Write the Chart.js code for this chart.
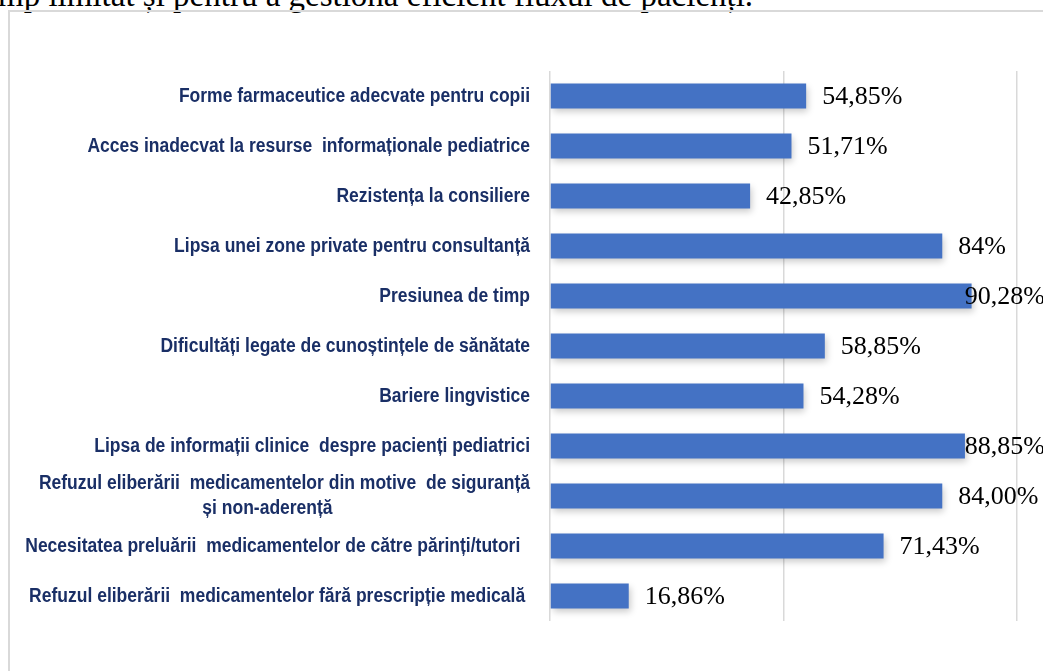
<!DOCTYPE html>
<html>
<head>
<meta charset="utf-8">
<script src="https://cdn.jsdelivr.net/npm/chart.js@4/dist/chart.umd.min.js"></script>
<style>
  html, body { margin: 0; padding: 0; background: #fff; overflow: hidden; }
  #wrap { position: relative; width: 1043px; height: 671px; }
  #intro {
    position: absolute; left: -2px; top: -21px; white-space: nowrap; line-height: 33px;
    font-family: "Liberation Serif", "Times New Roman", serif; font-size: 33px; color: #000;
  }
  #frame {
    position: absolute; left: 8px; top: 10px; width: 1100px; height: 700px;
    border-left: 2px solid #d9d9d9; border-top: 2px solid #d9d9d9;
  }
  canvas { position: absolute; left: 0; top: 0; }
</style>
</head>
<body>
<div id="wrap">
  <div id="intro">mp limitat și pentru a gestiona eficient fluxul de pacienți.</div>
  <div id="frame"></div>
  <canvas id="chart" width="1043" height="671"></canvas>
</div>
<script>
// categories, top to bottom
const categories = [
    ['Forme farmaceutice adecvate pentru copii'],
    ['Acces inadecvat la resurse  informaționale pediatrice'],
    ['Rezistența la consiliere'],
    ['Lipsa unei zone private pentru consultanță'],
    ['Presiunea de timp'],
    ['Dificultăți legate de cunoștințele de sănătate'],
    ['Bariere lingvistice'],
    ['Lipsa de informații clinice  despre pacienți pediatrici'],
    ['Refuzul eliberării  medicamentelor din motive  de siguranță', 'și non-aderență'],
    ['Necesitatea preluării  medicamentelor de către părinți/tutori  '],
    ['Refuzul eliberării  medicamentelor fără prescripție medicală ']
];
const values = [54.85, 51.71, 42.85, 84, 90.28, 58.85, 54.28, 88.85, 84.00, 71.43, 16.86];
const valueLabels = ['54,85%', '51,71%', '42,85%', '84%', '90,28%', '58,85%', '54,28%', '88,85%', '84,00%', '71,43%', '16,86%'];
const xTicks = [0, 50, 100];

const BAR_COLOR = '#4472c4';
const LABEL_COLOR = '#1a2f66';
const NARROW = 0.875; // no Arial Narrow installed, squeeze bold Arial instead

// category names drawn right-aligned next to the axis, multi-line ones centered
const categoryNames = {
    id: 'categoryNames',
    afterDraw(chart) {
        const ctx = chart.ctx;
        const y = chart.scales.y;
        const right = chart.chartArea.left - 20;
        ctx.save();
        ctx.font = 'bold 20px "Liberation Sans", Arial, sans-serif';
        ctx.fillStyle = LABEL_COLOR;
        ctx.textBaseline = 'middle';
        const put = (t, x, yy, align) => {
            ctx.save();
            ctx.translate(x, yy);
            ctx.scale(NARROW, 1);
            ctx.textAlign = align;
            ctx.fillText(t, 0, 0);
            ctx.restore();
        };
        categories.forEach((lines, i) => {
            const cy = y.getPixelForValue(i);
            if (lines.length === 1) {
                put(lines[0], right, cy, 'right');
            } else {
                const w = ctx.measureText(lines[0]).width * NARROW;
                const cx = right - w / 2 - 17;
                lines.forEach((t, k) => {
                    const ly = cy + (k - (lines.length - 1) / 2) * 25;
                    if (k === 0) put(t, right, ly, 'right');
                    else put(t, cx, ly, 'center');
                });
            }
        });
        ctx.restore();
    }
};

// value labels at the bar ends, pulled back where they would run off the page
const valueText = {
    id: 'valueText',
    afterDatasetsDraw(chart) {
        const ctx = chart.ctx;
        const meta = chart.getDatasetMeta(0);
        ctx.save();
        ctx.font = '26px "Liberation Serif", "Times New Roman", serif';
        ctx.fillStyle = '#000';
        ctx.textBaseline = 'middle';
        ctx.textAlign = 'left';
        meta.data.forEach((bar, i) => {
            const w = ctx.measureText(valueLabels[i]).width;
            let x = bar.x + 16;
            if (x + w > chart.width + 2) x = chart.width + 2 - w;
            ctx.fillText(valueLabels[i], x, bar.y + 1);
        });
        ctx.restore();
    }
};

// soft drop shadow under the bars
const barShadow = {
    id: 'barShadow',
    beforeDatasetsDraw(chart) {
        const ctx = chart.ctx;
        ctx.save();
        ctx.shadowColor = 'rgba(0,0,0,0.22)';
        ctx.shadowBlur = 7;
        ctx.shadowOffsetX = 2;
        ctx.shadowOffsetY = 3;
    },
    afterDatasetsDraw(chart) {
        chart.ctx.restore();
    }
};

new Chart(document.getElementById('chart'), {
    type: 'bar',
    data: {
        labels: categories.map(c => c.join(' ')),
        datasets: [{
            data: values,
            backgroundColor: BAR_COLOR,
            borderWidth: 0,
            barPercentage: 0.5,
            categoryPercentage: 1.0
        }]
    },
    options: {
        indexAxis: 'y',
        responsive: false,
        animation: false,
        events: [],
        layout: { padding: { left: 550, right: 26, top: 71, bottom: 50 } },
        plugins: {
            legend: { display: false },
            tooltip: { enabled: false }
        },
        scales: {
            x: {
                min: 0,
                max: 100,
                afterBuildTicks: axis => { axis.ticks = xTicks.map(v => ({ value: v })); },
                ticks: { display: false },
                grid: { color: '#d9d9d9', lineWidth: 1.5, drawTicks: false },
                border: { display: false }
            },
            y: {
                display: false
            }
        }
    },
    plugins: [barShadow, valueText, categoryNames]
});
</script>
</body>
</html>
